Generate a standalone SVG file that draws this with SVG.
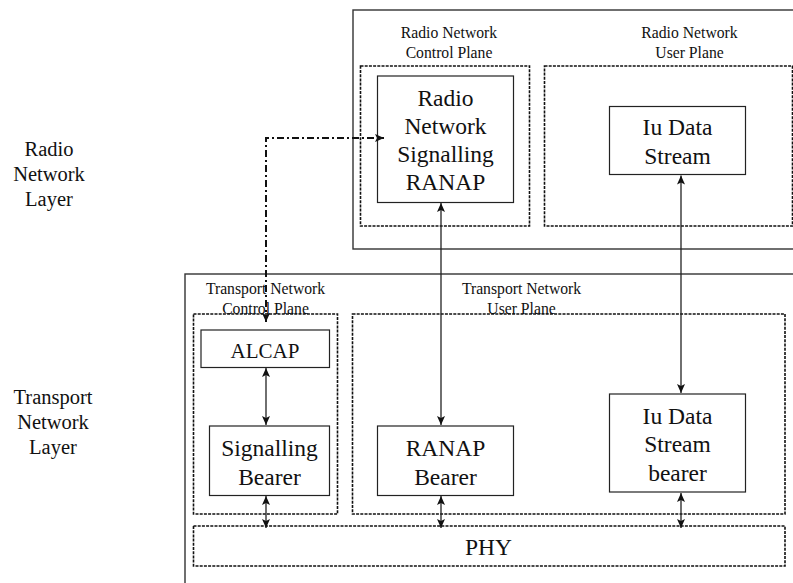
<svg xmlns="http://www.w3.org/2000/svg" width="793" height="583" viewBox="0 0 793 583">
<style>
text{font-family:"Liberation Serif","Times New Roman",serif;fill:#111;text-anchor:middle}
.lbl{font-size:15.7px}
.big{font-size:23.5px}
.side{font-size:20.5px}
.outer{fill:none;stroke:#333;stroke-width:1.4}
.plane{fill:none;stroke:#111;stroke-width:1.6;stroke-dasharray:3 1.2}
.box{fill:#fff;stroke:#222;stroke-width:1.2}
.conn{fill:none;stroke:#222;stroke-width:1.3}
.dd{stroke:#111;stroke-dasharray:7 3 2 3;stroke-width:2}
</style>
<defs>
<marker id="ah" markerWidth="10" markerHeight="10" refX="9" refY="5" orient="auto-start-reverse" markerUnits="userSpaceOnUse">
<path d="M0,1 L9,5 L0,9 L2,5 Z" fill="#111"/>
</marker>
</defs>
<rect width="793" height="583" fill="#fff"/>
<g id="radio-layer-label"><text class="side" x="49" y="156">Radio</text><text class="side" x="49" y="181">Network</text><text class="side" x="49" y="206">Layer</text></g>
<g id="transport-layer-label"><text class="side" x="53" y="404">Transport</text><text class="side" x="53" y="429">Network</text><text class="side" x="53" y="454">Layer</text></g>
<g id="radio-layer"><rect class="outer" x="353" y="10" width="460" height="239"/></g>
<g id="transport-layer"><rect class="outer" x="185" y="274" width="630" height="330"/></g>
<g id="rn-control-plane"><text class="lbl" x="449" y="37.5">Radio Network</text><text class="lbl" x="449" y="57.5">Control Plane</text><rect class="plane" x="360.5" y="66" width="169" height="160"/></g>
<g id="rn-user-plane"><text class="lbl" x="689.5" y="37.5">Radio Network</text><text class="lbl" x="689.5" y="57.5">User Plane</text><rect class="plane" x="544.5" y="66" width="248" height="160"/></g>
<g id="tn-control-plane"><text class="lbl" x="265.5" y="293.5">Transport Network</text><text class="lbl" x="265.5" y="313.5">Control Plane</text><rect class="plane" x="193.5" y="314" width="144" height="200"/></g>
<g id="tn-user-plane"><text class="lbl" x="521.5" y="293.5">Transport Network</text><text class="lbl" x="521.5" y="313.5">User Plane</text><rect class="plane" x="352.5" y="314" width="432.5" height="200"/></g>
<g id="phy"><rect class="plane" x="193.5" y="526" width="591.5" height="40"/><text class="big" x="488.5" y="555">PHY</text></g>
<g id="rn-signalling"><rect class="box" x="377.5" y="76" width="136" height="126.5"/><text class="big" x="445.5" y="106">Radio</text><text class="big" x="445.5" y="134">Network</text><text class="big" x="445.5" y="162">Signalling</text><text class="big" x="445.5" y="190">RANAP</text></g>
<g id="iu-data-stream"><rect class="box" x="609.5" y="106.5" width="136" height="68"/><text class="big" x="677.5" y="135">Iu Data</text><text class="big" x="677.5" y="164">Stream</text></g>
<g id="alcap"><rect class="box" x="201" y="330" width="128.5" height="37.5"/><text class="big" x="265" y="357.5" style="font-size:21px">ALCAP</text></g>
<g id="signalling-bearer"><rect class="box" x="209.5" y="426" width="120" height="69.5"/><text class="big" x="269.5" y="456">Signalling</text><text class="big" x="269.5" y="484.5">Bearer</text></g>
<g id="ranap-bearer"><rect class="box" x="377.5" y="426" width="136" height="69.5"/><text class="big" x="445.5" y="456">RANAP</text><text class="big" x="445.5" y="484.5">Bearer</text></g>
<g id="iu-data-stream-bearer"><rect class="box" x="609.5" y="394" width="136" height="98"/><text class="big" x="677.5" y="423.5">Iu Data</text><text class="big" x="677.5" y="452">Stream</text><text class="big" x="677.5" y="480.5">bearer</text></g>
<g id="connectors">
<path class="conn dd" d="M266,322 V138 H384" marker-start="url(#ah)" marker-end="url(#ah)"/>
<line class="conn" x1="266" y1="368" x2="266" y2="425" marker-start="url(#ah)" marker-end="url(#ah)"/>
<line class="conn" x1="441" y1="203" x2="441" y2="425" marker-start="url(#ah)" marker-end="url(#ah)"/>
<line class="conn" x1="681" y1="175.5" x2="681" y2="393" marker-start="url(#ah)" marker-end="url(#ah)"/>
<line class="conn" x1="266" y1="496" x2="266" y2="528" marker-start="url(#ah)" marker-end="url(#ah)"/>
<line class="conn" x1="441" y1="496" x2="441" y2="528" marker-start="url(#ah)" marker-end="url(#ah)"/>
<line class="conn" x1="681" y1="493" x2="681" y2="528" marker-start="url(#ah)" marker-end="url(#ah)"/>
</g>
</svg>
